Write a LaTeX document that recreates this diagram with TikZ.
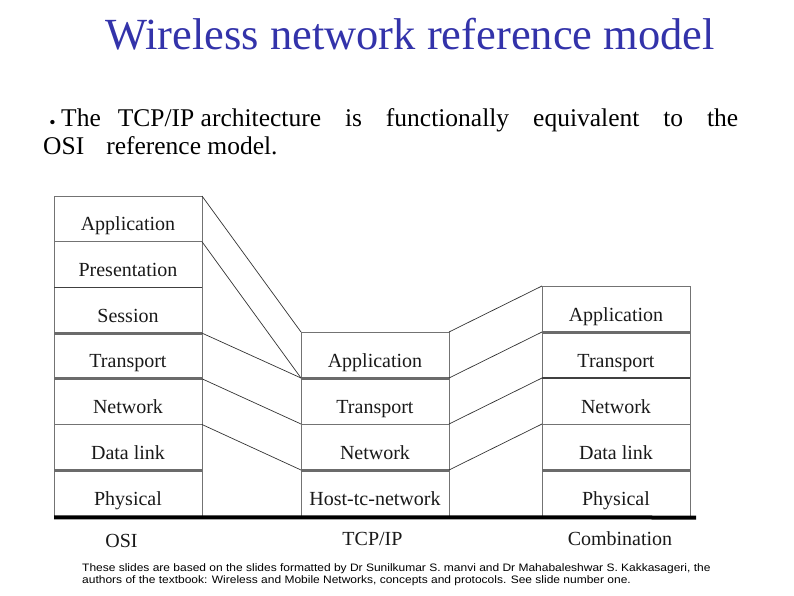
\documentclass[tikz,border=0pt]{standalone}
\usepackage{fontspec}
\setmainfont{Liberation Serif}
\newfontfamily\creditfont{Liberation Sans}
\usetikzlibrary{positioning}
\definecolor{titleblue}{RGB}{51,51,170}

\tikzset{
  layer/.style={draw=black!55, line width=0.8bp, minimum width=148bp, minimum height=46bp,
    inner sep=0pt, outer sep=0pt, text height=24bp, text depth=0pt, text=black!90,
    font=\fontsize{20bp}{20bp}\selectfont},
  thickrule/.style={draw=black!58, line width=3bp},
  midrule/.style={draw=black!75, line width=1.5bp},
  link/.style={draw=black!80, line width=0.7bp},
  groundline/.style={draw=black, line width=4bp},
  stackname/.style={anchor=base, inner sep=0pt, text=black!90, font=\fontsize{20bp}{20bp}\selectfont},
  bodytext/.style={anchor=base west, inner sep=0pt, font=\fontsize{25.5bp}{28bp}\selectfont},
  credit/.style={anchor=base west, inner sep=0pt, font=\creditfont\fontsize{10.8bp}{13bp}\selectfont},
}

\begin{document}
\begin{tikzpicture}[x=1bp,y=-1bp]
  \useasboundingbox (0,0) rectangle (794,596);
  \node[anchor=base, inner sep=0pt, text=titleblue, font=\fontsize{44.5bp}{50bp}\selectfont] (title) at (410,50) {Wireless network reference model};
  \node[inner sep=0pt, font=\fontsize{18bp}{18bp}\selectfont] (bullet) at (52.5,124) {•};
  \node[bodytext] (line1) at (61,127) {\makebox[677bp][l]{The\hspace{17bp}TCP/IP architecture\hfill is\hfill functionally\hfill equivalent\hfill to\hfill the}};
  \node[bodytext] (line2) at (43,155) {OSI\hspace{22bp}reference model.};

  \node[layer, minimum height=45.7bp, anchor=north west] (osiapp) at (54,196) {Application};
  \node[layer, minimum height=45.7bp, below=0pt of osiapp] (osipre) {Presentation};
  \node[layer, minimum height=45.7bp, below=0pt of osipre] (osises) {Session};
  \node[layer, minimum height=45.7bp, below=0pt of osises] (ositra) {Transport};
  \node[layer, minimum height=45.7bp, below=0pt of ositra] (osinet) {Network};
  \node[layer, minimum height=45.7bp, below=0pt of osinet] (osidat) {Data link};
  \node[layer, minimum height=45.7bp, below=0pt of osidat] (osiphy) {Physical};

  \node[layer, anchor=north west] (tcpapp) at (301,332) {Application};
  \node[layer, below=0pt of tcpapp] (tcptra) {Transport};
  \node[layer, below=0pt of tcptra] (tcpnet) {Network};
  \node[layer, below=0pt of tcpnet] (tcphost) {Host-tc-network};

  \node[layer, anchor=north west] (cmbapp) at (542,286) {Application};
  \node[layer, below=0pt of cmbapp] (cmbtra) {Transport};
  \node[layer, below=0pt of cmbtra] (cmbnet) {Network};
  \node[layer, below=0pt of cmbnet] (cmbdat) {Data link};
  \node[layer, below=0pt of cmbdat] (cmbphy) {Physical};

  \foreach \n in {osises,ositra,osidat,tcpapp,tcpnet,cmbapp,cmbdat}
    \draw[thickrule] (\n.south west) -- (\n.south east);
  \foreach \n in {osipre,cmbtra}
    \draw[midrule] (\n.south west) -- (\n.south east);

  \draw[link] (osiapp.north east) -- (tcpapp.north west);
  \draw[link] (osipre.north east) -- (tcpapp.south west);
  \draw[link] (ositra.north east) -- (tcpapp.south west);
  \draw[link] (osinet.north east) -- (tcptra.south west);
  \draw[link] (osidat.north east) -- (tcpnet.south west);
  \draw[link] (tcpapp.north east) -- (cmbapp.north west);
  \draw[link] (tcptra.north east) -- (cmbtra.north west);
  \draw[link] (tcpnet.north east) -- (cmbnet.north west);
  \draw[link] (tcphost.north east) -- (cmbdat.north west);

  \draw[groundline] ([yshift=-1.5bp]osiphy.south west) -- ([xshift=6bp,yshift=-1.5bp]cmbphy.south east);

  \node[stackname] (osiname) at (121.5,547) {OSI};
  \node[stackname] (tcpname) at (372.5,545) {TCP/IP};
  \node[stackname] (cmbname) at (620,545) {Combination};

  \node[credit] (credit1) at (82,571.5) {\scalebox{1.11}[1]{These slides are based on the slides formatted by Dr Sunilkumar S. manvi and Dr Mahabaleshwar S. Kakkasageri, the}};
  \node[credit] (credit2) at (82,583.5) {\scalebox{1.11}[1]{authors of the textbook: Wireless and Mobile Networks, concepts and protocols. See slide number one.}};
\end{tikzpicture}
\end{document}
